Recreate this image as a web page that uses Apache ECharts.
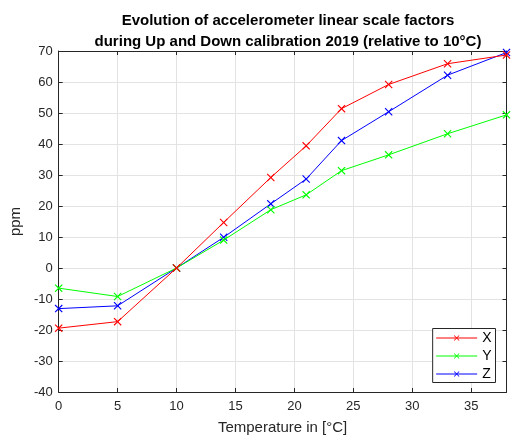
<!DOCTYPE html>
<html>
<head>
<meta charset="utf-8">
<script src="https://cdn.jsdelivr.net/npm/echarts@6/dist/echarts.min.js"></script>
<style>html,body{margin:0;padding:0;background:#fff}#c{width:517px;height:440px}</style>
</head>
<body>
<div id="c"></div>
<script>
const temperatures = [0, 5, 10, 14, 18, 21, 24, 28, 33, 38];
const seriesX = [-19.4, -17.3, 0, 14.7, 29.2, 39.4, 51.4, 59.2, 65.9, 68.7];
const seriesY = [-6.5, -9.2, 0, 9.0, 18.8, 23.6, 31.4, 36.5, 43.3, 49.4];
const seriesZ = [-13.1, -12.2, 0, 9.9, 20.7, 28.7, 41.1, 50.4, 62.2, 69.5];
const seriesNames = ['X', 'Y', 'Z'];
const seriesColors = ['#ff0000', '#00ff00', '#0000ff'];
const titleText = 'Evolution of accelerometer linear scale factors\nduring Up and Down calibration 2019 (relative to 10°C)';
const xLabel = 'Temperature in [°C]';
const yLabel = 'ppm';

const FONT = '"Liberation Sans", Arial, Helvetica, sans-serif';
const AX = '#262626';
const crossPath = 'path://M0,1 L1,0 L5,4 L9,0 L10,1 L6,5 L10,9 L9,10 L5,6 L1,10 L0,9 L4,5 Z';

const dataSets = [seriesX, seriesY, seriesZ];
const chart = echarts.init(document.getElementById('c'), null, {renderer: 'canvas'});

const axisCommon = {
  axisLine: {show: true, onZero: false, lineStyle: {color: AX, width: 1}},
  axisTick: {show: true, inside: true, length: 4, lineStyle: {color: AX}},
};

chart.setOption({
  animation: false,
  backgroundColor: '#fff',
  textStyle: {fontFamily: FONT},
  title: {
    text: titleText,
    left: 283, top: 5,
    textAlign: 'center',
    textStyle: {fontFamily: FONT, fontSize: 15, fontWeight: 'bold', color: '#000', lineHeight: 21}
  },
  grid: {left: 57, right: 10.5, top: 51, bottom: 47.5, containLabel: false},
  legend: {
    orient: 'vertical', right: 21.5, bottom: 57.5,
    backgroundColor: '#fff', borderColor: AX, borderWidth: 1, borderRadius: 0,
    padding: [2, 4, 1, 3], itemWidth: 41, itemHeight: 7, itemGap: 3,
    lineStyle: {width: 1},
    textStyle: {fontFamily: FONT, fontSize: 14, color: '#000', lineHeight: 15},
    data: seriesNames
  },
  xAxis: [{
    type: 'value', min: 0, max: 38, interval: 5, position: 'bottom',
    name: xLabel, nameLocation: 'middle', nameGap: 28,
    nameTextStyle: {fontFamily: FONT, fontSize: 15, color: AX},
    ...axisCommon,
    axisLabel: {fontFamily: FONT, fontSize: 13, color: AX, margin: 8, showMaxLabel: false},
    splitLine: {show: true, lineStyle: {color: '#e3e3e3', width: 1}}
  }, {
    type: 'value', min: 0, max: 38, interval: 5, position: 'top',
    ...axisCommon, axisLabel: {show: false}, splitLine: {show: false}
  }],
  yAxis: [{
    type: 'value', min: -40, max: 70, interval: 10, position: 'left',
    name: yLabel, nameLocation: 'middle', nameGap: 26, nameRotate: 90,
    nameTextStyle: {fontFamily: FONT, fontSize: 15, color: AX},
    ...axisCommon,
    axisLabel: {fontFamily: FONT, fontSize: 13, color: AX, margin: 6},
    splitLine: {show: true, lineStyle: {color: '#e3e3e3', width: 1}}
  }, {
    type: 'value', min: -40, max: 70, interval: 10, position: 'right',
    ...axisCommon, axisLabel: {show: false}, splitLine: {show: false}
  }],
  series: seriesNames.map((n, i) => ({
    name: n, type: 'line',
    data: temperatures.map((t, j) => [t, dataSets[i][j]]),
    symbol: crossPath, symbolSize: 8, showAllSymbol: true,
    lineStyle: {color: seriesColors[i], width: 1},
    itemStyle: {color: seriesColors[i]},
    z: 10 - i
  }))
});
</script>
</body>
</html>
